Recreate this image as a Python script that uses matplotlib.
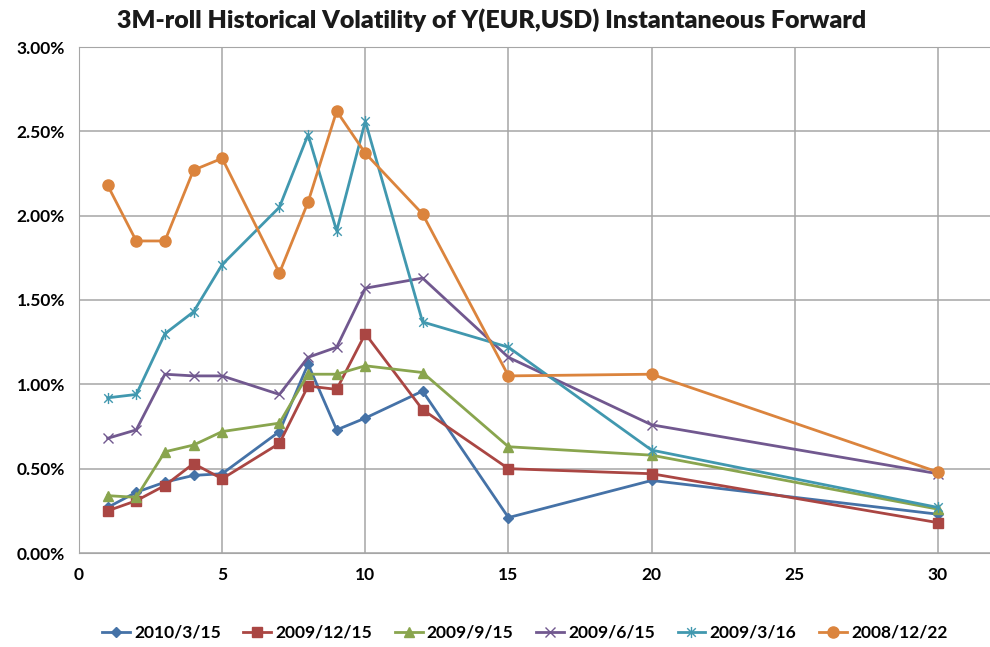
import matplotlib.pyplot as plt
from matplotlib.path import Path
from matplotlib.ticker import FuncFormatter

plt.rcParams['font.family'] = ['Lato', 'DejaVu Sans']

# tenor (years)
tenors = [1, 2, 3, 4, 5, 7, 8, 9, 10, 12, 15, 20, 30]

# volatility in %
v_20100315 = [0.27, 0.36, 0.42, 0.46, 0.47, 0.72, 1.12, 0.73, 0.80, 0.96, 0.21, 0.43, 0.23]
v_20091215 = [0.25, 0.31, 0.40, 0.53, 0.44, 0.65, 0.99, 0.97, 1.30, 0.85, 0.50, 0.47, 0.18]
v_20090915 = [0.34, 0.33, 0.60, 0.64, 0.72, 0.77, 1.06, 1.06, 1.11, 1.07, 0.63, 0.58, 0.26]
v_20090615 = [0.68, 0.73, 1.06, 1.05, 1.05, 0.94, 1.16, 1.22, 1.57, 1.63, 1.16, 0.76, 0.47]
v_20090316 = [0.92, 0.94, 1.30, 1.43, 1.71, 2.05, 2.48, 1.91, 2.56, 1.37, 1.22, 0.61, 0.27]
v_20081222 = [2.18, 1.85, 1.85, 2.27, 2.34, 1.66, 2.08, 2.62, 2.37, 2.01, 1.05, 1.06, 0.48]

labels = ['2010/3/15', '2009/12/15', '2009/9/15', '2009/6/15', '2009/3/16', '2008/12/22']
series = [v_20100315, v_20091215, v_20090915, v_20090615, v_20090316, v_20081222]

# excel style star: x plus vertical bar
star = Path([(-1, -1), (1, 1), (-1, 1), (1, -1), (0, -1.3), (0, 1.3)],
            [Path.MOVETO, Path.LINETO, Path.MOVETO, Path.LINETO, Path.MOVETO, Path.LINETO])

styles = [
    dict(color='#4572A7', marker='D', ms=5.5),
    dict(color='#AA4643', marker='s', ms=7),
    dict(color='#89A54E', marker='^', ms=7.5),
    dict(color='#71588F', marker='x', ms=7, mew=1.0),
    dict(color='#4198AF', marker=star, ms=8, mew=1.0),
    dict(color='#DB843D', marker='o', ms=8),
]

fig = plt.figure(figsize=(9.9, 6.47), dpi=100)
ax = fig.add_axes([79/990, 1 - 553/647, 1 - 79/990, (553 - 47)/647])

for y, lab, st in zip(series, labels, styles):
    ax.plot(tenors, y, label=lab, lw=2, **st)

ax.set_xlim(0, (990 - 79) / 28.63)
ax.set_ylim(0, 3.0)
ax.set_xticks([0, 5, 10, 15, 20, 25, 30])
ax.set_yticks([0, 0.5, 1.0, 1.5, 2.0, 2.5, 3.0])
ax.yaxis.set_major_formatter(FuncFormatter(lambda v, p: '%.2f%%' % v))
ax.grid(True, color='#A6A6A6', lw=1.1)
ax.set_axisbelow(True)
ax.spines['right'].set_visible(False)
for s in ['left', 'bottom', 'top']:
    ax.spines[s].set_color('#A6A6A6')
ax.tick_params(length=0, labelsize=12.5, pad=10)
for t in ax.get_xticklabels() + ax.get_yticklabels():
    t.set_fontweight('bold')

fig.text(0.497, 1 - 20/647, '3M-roll Historical Volatility of Y(EUR,USD) Instantaneous Forward',
         ha='center', va='center', fontsize=18, fontweight='heavy', color='#1a1a1a')

leg = fig.legend(loc='center', bbox_to_anchor=(0.53, 1 - 633/647), ncol=6, frameon=False,
                 prop={'size': 12.5, 'weight': 'bold'}, handlelength=1.6, columnspacing=1.3,
                 handletextpad=0.25)

fig.savefig('out.png', dpi=100)
